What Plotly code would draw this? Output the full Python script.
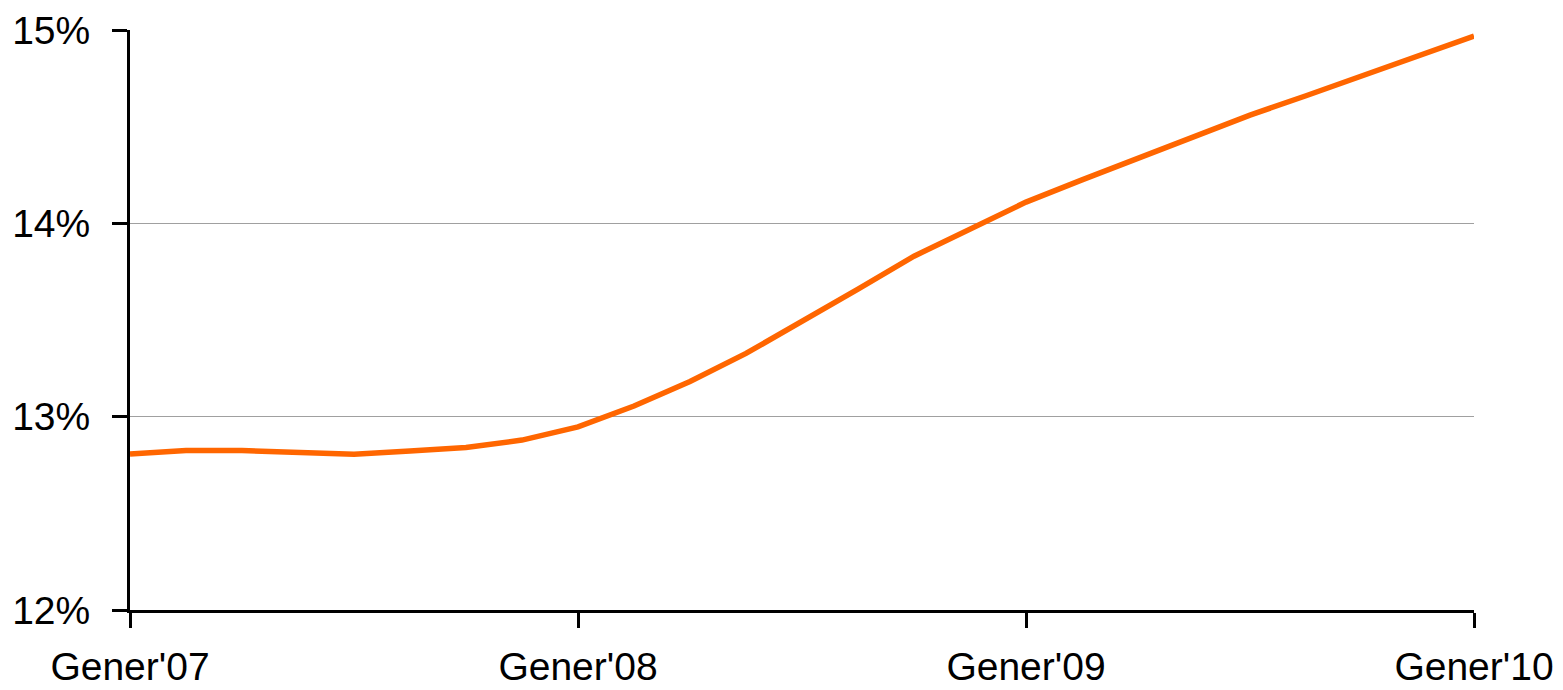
import plotly.graph_objects as go

periods = list(range(25))
values = [12.807, 12.825, 12.825, 12.815, 12.805, 12.822, 12.84, 12.879, 12.947,
          13.055, 13.182, 13.327, 13.49, 13.66, 13.83, 13.973, 14.11,
          14.225, 14.338, 14.449, 14.56, 14.66, 14.762, 14.866, 14.969]
tick_pos = [0, 8, 16, 24]
tick_labels = ["Gener'07", "Gener'08", "Gener'09", "Gener'10"]
y_ticks = [12, 13, 14, 15]
y_labels = ["12%", "13%", "14%", "15%"]

fig = go.Figure()
fig.add_trace(go.Scatter(x=periods, y=values, mode="lines",
                         line=dict(color="#FF6600", width=5.5), cliponaxis=False))

fam = "Liberation Sans, Arial, sans-serif"
fig.update_layout(
    width=1555, height=682,
    margin=dict(l=122, r=89, t=22, b=80),
    paper_bgcolor="white", plot_bgcolor="white",
    showlegend=False, font=dict(family=fam, size=39, color="black"),
)
fig.update_xaxes(range=[0, 24], tickvals=tick_pos, ticktext=tick_labels,
                 tickfont=dict(family=fam, size=39, color="black"),
                 showgrid=False, zeroline=False, showline=True, linecolor="black",
                 linewidth=3, ticks="outside", ticklen=15, tickwidth=3, tickcolor="black",
                 ticklabelstandoff=5, automargin=False)
fig.update_yaxes(range=[12, 15], tickvals=y_ticks, ticktext=y_labels,
                 tickfont=dict(family=fam, size=39, color="black"),
                 showgrid=True, gridcolor="#A0A0A0", gridwidth=1, zeroline=False,
                 showline=True, linecolor="black", linewidth=3,
                 ticks="outside", ticklen=15, tickwidth=3, tickcolor="black",
                 ticklabelstandoff=14, automargin=False)
fig.write_html("out.html")
